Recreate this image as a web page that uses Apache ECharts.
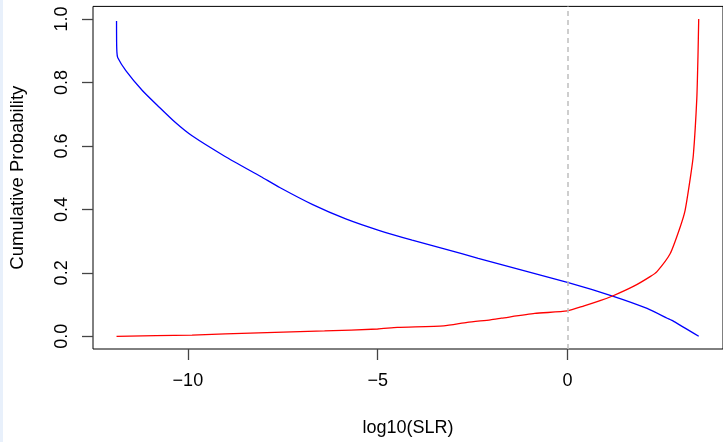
<!DOCTYPE html>
<html>
<head>
<meta charset="utf-8">
<script src="https://cdn.jsdelivr.net/npm/echarts@6/dist/echarts.min.js"></script>
<style>
html,body{margin:0;padding:0;background:#fff;}
#c{width:723px;height:442px;}
</style>
</head>
<body>
<div id="c"></div>
<script>
// Blue curve (decreasing)
var blueX = [-11.88, -11.878, -11.87, -11.85, -11.63, -11.2, -10.76, -10.32, -9.89, -9.02, -8.07, -7.58, -6.71, -5.84, -4.97, -4.09, -3.22, -2.35, 0.0, 1.19, 2.10, 2.63, 2.80, 3.46];
var blueY = [0.994, 0.93, 0.896, 0.879, 0.837, 0.775, 0.723, 0.673, 0.632, 0.567, 0.503, 0.469, 0.415, 0.370, 0.334, 0.303, 0.275, 0.246, 0.170, 0.127, 0.088, 0.057, 0.047, 0.0];
// Red curve (increasing)
var redX = [-11.88, -9.89, -8.14, -6.4, -5.0, -4.48, -3.26, -2.64, -2.03, -1.74, -0.86, 0.0, 0.44, 0.88, 1.19, 1.75, 2.19, 2.36, 2.71, 2.97, 3.10, 3.24, 3.32, 3.41, 3.44, 3.46];
var redY = [0.0, 0.004, 0.011, 0.017, 0.023, 0.028, 0.033, 0.044, 0.052, 0.057, 0.072, 0.080, 0.096, 0.113, 0.127, 0.158, 0.189, 0.204, 0.261, 0.344, 0.396, 0.500, 0.573, 0.75, 0.88, 1.0];
var xTicks = [-10, -5, 0];
var yTicks = [0, 0.2, 0.4, 0.6, 0.8, 1.0];
var refLineX = 0;

function pairs(xs, ys){ return xs.map(function(x,i){ return [x, ys[i]]; }); }

var font = '"Liberation Sans", Arial, sans-serif';
var chart = echarts.init(document.getElementById('c'), null, {renderer:'canvas'});
chart.setOption({
  animation: false,
  backgroundColor: '#ffffff',
  graphic: [{type:'rect', left:0, top:0, shape:{width:3, height:442}, style:{fill:'#e8f0fb'}, silent:true}],
  grid: {left: 92.5, top: 6.4, right: -3.3, bottom: 88.4, show: true, borderColor: '#000', borderWidth: 1, backgroundColor: 'transparent'},
  xAxis: {
    type: 'value', min: -12.5, max: 4.1,
    name: 'log10(SLR)', nameLocation: 'middle', nameGap: 70,
    nameTextStyle: {fontFamily: font, fontSize: 18, color: '#000'},
    axisLine: {show: false, onZero: false},
    axisTick: {show: true, length: 11, customValues: xTicks, lineStyle: {color: '#444', width: 1.3}},
    axisLabel: {customValues: xTicks, margin: 23, fontFamily: font, fontSize: 18, color: '#000',
      formatter: function(v){ return v < 0 ? '\u2212' + Math.abs(v) : String(v); }},
    splitLine: {show: false}
  },
  yAxis: {
    type: 'value', min: -0.04, max: 1.04,
    name: 'Cumulative Probability', nameLocation: 'middle', nameGap: 66,
    nameTextStyle: {fontFamily: font, fontSize: 18.5, color: '#000'},
    axisLine: {show: false, onZero: false},
    axisTick: {show: true, length: 11, customValues: yTicks, lineStyle: {color: '#444', width: 1.3}},
    axisLabel: {customValues: yTicks, rotate: 90, margin: 22, fontFamily: font, fontSize: 18, color: '#000',
      formatter: function(v){ return v.toFixed(1); }},
    splitLine: {show: false}
  },
  series: [
    {type: 'line', data: pairs(blueX, blueY), showSymbol: false, symbol: 'none',
      smooth: 0.2,
      lineStyle: {color: '#0000ff', width: 1.3}, itemStyle: {color: '#0000ff'}, silent: true,
      markLine: {silent: true, symbol: ['none','none'], label: {show: false},
        lineStyle: {color: '#bebebe', type: [5,4], width: 1.5},
        data: [{xAxis: refLineX}]}},
    {type: 'line', data: pairs(redX, redY), showSymbol: false, symbol: 'none',
      smooth: 0.2,
      lineStyle: {color: '#ff0000', width: 1.3}, itemStyle: {color: '#ff0000'}, silent: true}
  ]
});
</script>
</body>
</html>
